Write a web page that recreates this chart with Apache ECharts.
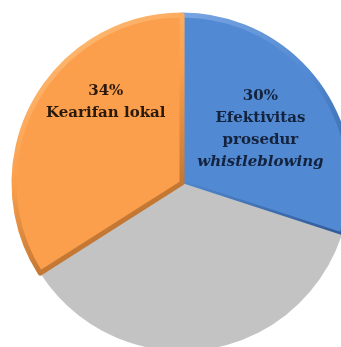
<!DOCTYPE html>
<html>
<head>
<meta charset="utf-8">
<style>
  html, body { margin: 0; padding: 0; background: #ffffff; }
  #chart { width: 341px; height: 347px; }
</style>
<script src="https://cdn.jsdelivr.net/npm/echarts@6/dist/echarts.min.js"></script>
</head>
<body>
<div id="chart"></div>
<script>
// Share of each factor (percent)
const categories = ['Efektivitas prosedur whistleblowing', 'Lainnya', 'Kearifan lokal'];
const values = [30, 36, 34];
const labelLines = [
  ['30%', 'Efektivitas', 'prosedur', '{i|whistleblowing}'],
  null,
  ['34%', 'Kearifan lokal']
];
const fills = ['#5189d2', '#c3c3c3', '#fb9f4c'];
// bevel edge: lit colour (top-left) and shaded colour (bottom-right)
const edgeLight = ['#79a5e2', '#c3c3c3', '#ffc687'];
const edgeDark = ['#2f5794', '#c3c3c3', '#94561f'];
const labelColors = ['#14233d', '#222', '#2a1a0c'];
const labelShift = [[8, -3], [0, 0], [0, -39]];

const chart = echarts.init(document.getElementById('chart'), null, { renderer: 'canvas' });

const data = values.map((v, i) => ({
  name: categories[i],
  value: v,
  itemStyle: {
    color: fills[i],
    borderColor: {
      type: 'linear', x: 0, y: 0, x2: 1, y2: 1,
      colorStops: [
        { offset: 0, color: edgeLight[i] },
        { offset: 0.45, color: fills[i] },
        { offset: 1, color: edgeDark[i] }
      ]
    },
    borderWidth: i === 1 ? 0 : 5
  },
  label: labelLines[i] ? {
    show: true,
    formatter: labelLines[i].join('\n'),
    color: labelColors[i],
    rich: {
      i: { fontStyle: 'italic', fontWeight: 'bold', fontFamily: 'DejaVu Serif', fontSize: 15, lineHeight: 22, color: labelColors[i] }
    }
  } : { show: false }
}));

chart.setOption({
  animation: false,
  series: [{
    type: 'pie',
    center: [182, 183],
    radius: [0, 168],
    startAngle: 90,
    clockwise: true,
    avoidLabelOverlap: false,
    label: {
      position: 'inside',
      fontFamily: 'DejaVu Serif',
      fontWeight: 'bold',
      fontSize: 15,
      lineHeight: 22,
      align: 'center'
    },
    labelLine: { show: false },
    labelLayout: function (p) {
      const s = labelShift[p.dataIndex];
      return { dx: s[0], dy: s[1] };
    },
    data: data
  }]
});
</script>
</body>
</html>
